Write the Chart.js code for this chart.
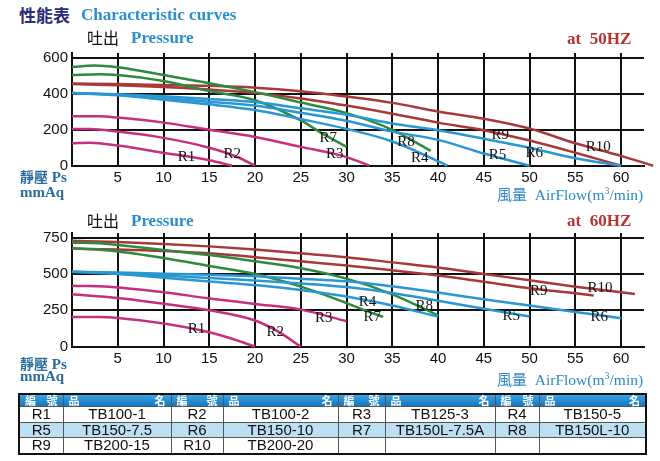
<!DOCTYPE html>
<html>
<head>
<meta charset="utf-8">
<script src="https://cdn.jsdelivr.net/npm/chart.js@4.4.0/dist/chart.umd.min.js"></script>
<style>
body { margin:0; background:#fff; width:660px; height:461px; position:relative; overflow:hidden; font-family:"Liberation Serif", serif; }
canvas { position:absolute; left:0; }
.t { position:absolute; white-space:nowrap; line-height:1; }
.cjk { font-family:"Noto Sans CJK TC", sans-serif; }
.en { font-family:"Liberation Serif", serif; font-weight:bold; }
.blue { color:#2b8fcc; }
.red { color:#b73331; }
.ax { color:#2b6c9e; font-weight:bold; font-size:15px; }
.fl { color:#2d88c4; font-size:15.5px; }
table { position:absolute; left:18px; top:393px; border-collapse:collapse; border:2px solid #111; font-family:"Liberation Sans", Arial, sans-serif; table-layout:fixed; }
td, th { border:1px solid #555; padding:0; text-align:center; font-size:15px; line-height:14px; height:14.5px; color:#111; font-weight:normal; }
th { background:linear-gradient(#3aa2e2,#1577bf); color:#fff; height:11px; font-size:11px; line-height:11px; font-family:"Noto Sans CJK TC", sans-serif; font-weight:bold; }
th div { display:flex; justify-content:space-between; padding:0 5px; }
tr.alt td { background:#bddff4; }
</style>
</head>
<body>
<canvas id="c50" width="660" height="150" style="top:40px"></canvas>
<canvas id="c60" width="660" height="150" style="top:220px"></canvas>

<div class="t cjk" style="left:19px;top:6px;font-size:17px;font-weight:bold;color:#2e2d77">性能表</div>
<div class="t en blue" style="left:81px;top:6px;font-size:17px">Characteristic curves</div>

<div class="t cjk" style="left:87px;top:29px;font-size:16px;color:#111">吐出</div>
<div class="t en blue" style="left:131px;top:29px;font-size:17px">Pressure</div>
<div class="t en red" style="left:567px;top:30px;font-size:17px">at&nbsp; 50HZ</div>
<div class="t ax" style="left:20px;top:169px"><span class="cjk" style="font-size:14px">靜壓</span> Ps</div>
<div class="t ax" style="left:20px;top:185px">mmAq</div>
<div class="t fl" style="left:497px;top:186px"><span class="cjk" style="font-size:15px">風量</span>&nbsp; AirFlow(m<sup style="font-size:10px">3</sup>/min)</div>

<div class="t cjk" style="left:87px;top:212px;font-size:16px;color:#111">吐出</div>
<div class="t en blue" style="left:131px;top:212px;font-size:17px">Pressure</div>
<div class="t en red" style="left:567px;top:212px;font-size:17px">at&nbsp; 60HZ</div>
<div class="t ax" style="left:20px;top:356px"><span class="cjk" style="font-size:14px">靜壓</span> Ps</div>
<div class="t ax" style="left:20px;top:369px">mmAq</div>
<div class="t fl" style="left:497px;top:371px"><span class="cjk" style="font-size:15px">風量</span>&nbsp; AirFlow(m<sup style="font-size:10px">3</sup>/min)</div>

<table>
<colgroup>
<col style="width:44px"><col style="width:108px"><col style="width:52px"><col style="width:115px">
<col style="width:47px"><col style="width:110px"><col style="width:44px"><col style="width:107px">
</colgroup>
<tr><th><div><span>編</span><span>號</span></div></th><th><div><span>品</span><span>名</span></div></th><th><div><span>編</span><span>號</span></div></th><th><div><span>品</span><span>名</span></div></th><th><div><span>編</span><span>號</span></div></th><th><div><span>品</span><span>名</span></div></th><th><div><span>編</span><span>號</span></div></th><th><div><span>品</span><span>名</span></div></th></tr>
<tr><td>R1</td><td>TB100-1</td><td>R2</td><td>TB100-2</td><td>R3</td><td>TB125-3</td><td>R4</td><td>TB150-5</td></tr>
<tr class="alt"><td>R5</td><td>TB150-7.5</td><td>R6</td><td>TB150-10</td><td>R7</td><td>TB150L-7.5A</td><td>R8</td><td>TB150L-10</td></tr>
<tr><td>R9</td><td>TB200-15</td><td>R10</td><td>TB200-20</td><td></td><td></td><td></td><td></td></tr>
</table>

<script>
// tick values
var xTicks = [5, 10, 15, 20, 25, 30, 35, 40, 45, 50, 55, 60];
var yTicks50 = [0, 200, 400, 600];
var yTicks60 = [0, 250, 500, 750];

// 50HZ curves: [airflow m3/min, static pressure mmAq]
var r1_50 = [[0,125],[2,128],[5,112],[10,72],[15,30],[17.5,0]];
var r2_50 = [[0,205],[2,205],[5,190],[10,155],[15,100],[18,50],[20,0]];
var r3_50 = [[0,275],[3,276],[5,268],[10,240],[15,200],[20,160],[25,105],[30,48],[32.5,0]];
var r4_50 = [[0,405],[5,392],[10,368],[15,342],[20,310],[25,260],[30,205],[35,135],[40,25],[41,0]];
var r5_50 = [[0,405],[5,395],[10,377],[15,357],[20,335],[25,295],[30,250],[35,190],[40,144],[45,68],[50,0]];
var r6_50 = [[0,405],[5,398],[10,387],[15,372],[20,355],[25,320],[30,284],[35,235],[40,197],[45,150],[50,100],[55,42],[60,0]];
var r7_50 = [[0,505],[3,510],[5,505],[10,472],[15,416],[20,365],[25,252],[27,190],[30,105]];
var r8_50 = [[0,550],[2.5,558],[5,548],[10,505],[15,460],[20,410],[25,352],[30,293],[35,200],[39.2,83]];
var r9_50 = [[0,455],[5,448],[10,438],[15,425],[20,405],[25,375],[30,335],[35,290],[40,240],[45,198],[50,140],[55,72],[60,0]];
var r10_50 = [[0,458],[5,455],[10,450],[15,445],[20,435],[25,415],[30,385],[35,350],[40,302],[45,262],[50,207],[55,125],[60,55],[63.5,0]];

// 60HZ curves
var r1_60 = [[0,205],[3,205],[5,198],[10,160],[15,100],[17.5,55],[20,0]];
var r2_60 = [[0,360],[5,335],[10,295],[15,250],[20,180],[22.5,105],[25,0]];
var r3_60 = [[0,420],[5,408],[10,375],[15,332],[20,294],[25,255],[30,175]];
var r4_60 = [[0,515],[5,500],[10,475],[15,448],[20,424],[25,390],[30,345],[35,283],[40,207]];
var r5_60 = [[0,515],[5,505],[10,490],[15,472],[20,455],[25,435],[30,410],[35,370],[40,316],[45,261],[50,207]];
var r6_60 = [[0,515],[5,510],[10,502],[15,494],[20,485],[25,468],[30,450],[35,415],[40,372],[45,326],[50,283],[55,239],[60,196]];
var r7_60 = [[0,678],[5,655],[10,610],[15,555],[20,500],[25,413],[30,300],[32,250],[34,205]];
var r8_60 = [[0,715],[3,712],[5,700],[10,665],[15,630],[20,587],[25,540],[30,468],[35,360],[40,215]];
var r9_60 = [[0,675],[5,668],[10,658],[15,642],[20,616],[25,587],[30,558],[35,525],[40,489],[45,446],[50,402],[55,368],[57,352]];
var r10_60 = [[0,728],[5,720],[10,707],[15,690],[20,668],[25,642],[30,615],[35,580],[40,544],[45,500],[50,457],[55,413],[61.5,363]];

// curve labels: [text, airflow, pressure]
var labels50 = [['R1',12.5,46],['R2',17.5,67],['R3',28.7,67],['R4',38,40],['R5',46.5,62],['R6',50.5,72],['R7',28,156],['R8',36.5,130],['R9',46.8,172],['R10',57.5,104]];
var labels60 = [['R1',13.6,122],['R2',22.2,102],['R3',27.5,194],['R4',32.3,305],['R5',48,213],['R6',57.6,202],['R7',32.8,207],['R8',38.5,280],['R9',51,385],['R10',57.7,402]];

var MAG = '#c5307d', BLU = '#2a96d2', GRN = '#2e8b3d', BRN = '#a8393a';

var curveLabels = {
    id: 'curveLabels',
    afterDatasetsDraw: function (chart, args, opts) {
        var ctx = chart.ctx;
        ctx.save();
        ctx.font = '15px "Liberation Serif"';
        ctx.fillStyle = '#111';
        ctx.textAlign = 'center';
        ctx.textBaseline = 'middle';
        opts.items.forEach(function (l) {
            ctx.fillText(l[0], chart.scales.x.getPixelForValue(l[1]), chart.scales.y.getPixelForValue(l[2]));
        });
        ctx.restore();
    }
};

function toXY(arr) {
    return arr.map(function (p) { return {x: p[0], y: p[1]}; });
}

function makeChart(id, curves, labels, yTicks, yMax, padTop, xH) {
    var colors = [MAG, MAG, MAG, BLU, BLU, BLU, GRN, GRN, BRN, BRN];
    var datasets = curves.map(function (c, i) {
        return {
            label: 'R' + (i + 1),
            data: toXY(c),
            borderColor: colors[i],
            borderWidth: 2.5,
            pointRadius: 0,
            fill: false,
            cubicInterpolationMode: 'monotone',
            clip: false
        };
    });
    var tickFont = {family: '"Liberation Sans"', size: 15};
    return new Chart(document.getElementById(id).getContext('2d'), {
        type: 'line',
        data: {datasets: datasets},
        options: {
            responsive: false,
            animation: false,
            layout: {padding: {top: padTop, right: 16, left: 0, bottom: 0}},
            plugins: {legend: {display: false}, tooltip: {enabled: false}, curveLabels: {items: labels}},
            scales: {
                x: {
                    type: 'linear', min: 0, max: 62.5,
                    afterFit: function (s) { s.height = xH; },
                    afterBuildTicks: function (s) { s.ticks = xTicks.map(function (v) { return {value: v}; }); },
                    ticks: {autoSkip: false, maxRotation: 0, font: tickFont, color: '#111', padding: 3},
                    grid: {color: '#111', lineWidth: 2, drawTicks: false},
                    border: {color: '#111', width: 2}
                },
                y: {
                    min: 0, max: yMax,
                    afterFit: function (s) { s.width = 72; },
                    afterBuildTicks: function (s) { s.ticks = yTicks.map(function (v) { return {value: v}; }); },
                    ticks: {autoSkip: false, font: tickFont, color: '#111', padding: 4},
                    grid: {color: '#111', lineWidth: 2, drawTicks: false},
                    border: {color: '#111', width: 2}
                }
            }
        },
        plugins: [curveLabels]
    });
}

makeChart('c50', [r1_50, r2_50, r3_50, r4_50, r5_50, r6_50, r7_50, r8_50, r9_50, r10_50], labels50, yTicks50, 628, 7, 24.3);
makeChart('c60', [r1_60, r2_60, r3_60, r4_60, r5_60, r6_60, r7_60, r8_60, r9_60, r10_60], labels60, yTicks60, 782, 7, 23.3);
</script>
</body>
</html>
